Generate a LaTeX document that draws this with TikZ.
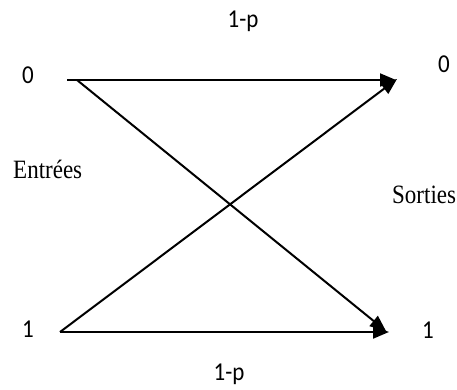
\documentclass[tikz,border=0pt]{standalone}
\usepackage{fontspec}
\setmainfont{Liberation Serif}
\newfontfamily\calib{Carlito}
\usetikzlibrary{arrows.meta,positioning}

\begin{document}
\begin{tikzpicture}[x=1pt,y=-1pt,
    lbl/.style={font=\calib\fontsize{23}{25}\selectfont, anchor=base,
                inner sep=0pt, yscale=1.12, transform shape},
    side/.style={font=\fontsize{23}{25}\selectfont, anchor=base west,
                 inner sep=0pt, yscale=1.15, transform shape},
    canal/.style={line width=2pt,-{Triangle[length=16pt,width=13pt]}}]
  \useasboundingbox (0,0) rectangle (457,389);

  % Symbols
  \node[lbl] (in0) at (28,83) {0};
  \node[lbl] (in1) at (28,337) {1};
  \node[lbl] (out0) at (444,72) {0};
  \node[lbl] (out1) at (428,338) {1};
  \node[lbl] (ptop) at (243,27) {1-p};
  \node[lbl] (pbot) at (229,380) {1-p};

  % Side labels
  \node[side] (entrees) at (13,178) {Entrées};
  \node[side] (sorties) at (392,203) {Sorties};

  % End points
  \coordinate (a0) at (67,80);
  \coordinate (b0) at (77,80);
  \coordinate (a1) at (60,332);
  \coordinate (e0) at (396,80);
  \coordinate (f0) at (397,79);
  \coordinate (e1) at (389,332);
  \coordinate (f1) at (386,331);

  % Transitions
  \draw[canal] (a0) -- (e0);
  \draw[canal] (b0) -- (f1);
  \draw[canal] (a1) -- (f0);
  \draw[canal] (a1) -- (e1);
\end{tikzpicture}
\end{document}
